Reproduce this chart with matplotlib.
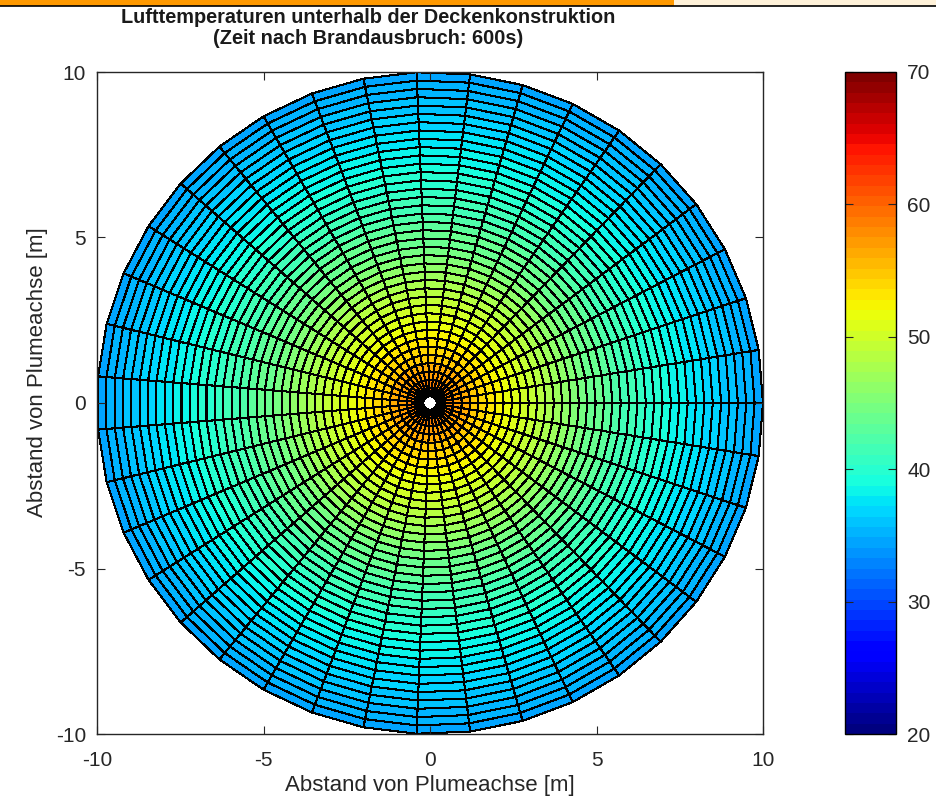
import numpy as np
import matplotlib
matplotlib.use("Agg")
import matplotlib.pyplot as plt
from matplotlib.patches import Rectangle

plt.rcParams['font.family'] = ['Liberation Sans', 'DejaVu Sans']
plt.rcParams['axes.unicode_minus'] = False

# grid of the ceiling (polar mesh)
r_edges = np.linspace(0.2, 10, 40)
theta_edges = np.linspace(0, 2 * np.pi, 40)

# air temperature per ring, from the plume axis outwards [degC]
ring_temps = [60.0, 58.5, 57.2, 56.0, 55.0, 54.0, 53.1, 52.3, 51.5, 50.7,
              49.9, 49.1, 48.3, 47.6, 46.9, 46.2, 45.5, 44.8, 44.2, 43.6,
              43.0, 42.4, 41.8, 41.2, 40.7, 40.2, 39.7, 39.2, 38.7, 38.2,
              37.7, 37.3, 36.9, 36.5, 36.1, 35.7, 35.3, 34.9, 34.5]

title_lines = ["Lufttemperaturen unterhalb der Deckenkonstruktion",
               "(Zeit nach Brandausbruch: 600s)"]
axis_label = "Abstand von Plumeachse [m]"
ticks = [-10, -5, 0, 5, 10]
cbar_ticks = [20, 30, 40, 50, 60, 70]

W, H = 936, 802
fig = plt.figure(figsize=(W / 100, H / 100), dpi=100)

# page strip at the very top
fig.patches.append(Rectangle((0, 1 - 5.5 / H), 674 / W, 5.5 / H, transform=fig.transFigure,
                             facecolor='#ff9900', edgecolor='none'))
fig.patches.append(Rectangle((674 / W, 1 - 5.5 / H), 1 - 674 / W, 5.5 / H, transform=fig.transFigure,
                             facecolor='#fff2d9', edgecolor='none'))
fig.lines.append(plt.Line2D([0, 1], [1 - 6 / H, 1 - 6 / H], transform=fig.transFigure,
                            color='k', lw=1.2))

ax = fig.add_axes([97 / W, 1 - 734 / H, 666 / W, 662 / H])

R, T = np.meshgrid(r_edges, theta_edges)
X = R * np.cos(T)
Y = R * np.sin(T)
C = np.tile(np.array(ring_temps), (len(theta_edges) - 1, 1))

cmap = plt.get_cmap('jet', 64)
mesh = ax.pcolormesh(X, Y, C, cmap=cmap, vmin=20, vmax=70,
                     edgecolors='k', linewidth=0.75, shading='flat', snap=False)

ax.set_xlim(-10, 10)
ax.set_ylim(-10, 10)
ax.set_xticks(ticks)
ax.set_yticks(ticks)
ax.tick_params(direction='in', length=6, width=0.8, labelsize=15,
               colors='#262626', top=True, right=True)
ax.tick_params(axis='x', pad=12)
ax.tick_params(axis='y', pad=8)
for s in ax.spines.values():
    s.set_linewidth(1.0)
    s.set_color('#262626')
ax.set_xlabel(axis_label, fontsize=16, color='#262626', labelpad=4)
ax.set_ylabel(axis_label, fontsize=16, color='#262626')
ax.yaxis.set_label_coords(-0.073, 0.547)

fig.text(368 / W, 1 - 8 / H, title_lines[0] + "\n" + title_lines[1], ha='center', va='top',
         fontsize=14.3, fontweight='bold', color='#1a1a1a', linespacing=1.1)

cax = fig.add_axes([845 / W, 1 - 734 / H, 51 / W, 662 / H])
cb = fig.colorbar(mesh, cax=cax, ticks=cbar_ticks)
cb.outline.set_linewidth(1.0)
cax.tick_params(direction='in', length=6, width=0.8, labelsize=15, colors='#262626',
                left=True, right=True, pad=8)

fig.savefig('out.png', dpi=100)
